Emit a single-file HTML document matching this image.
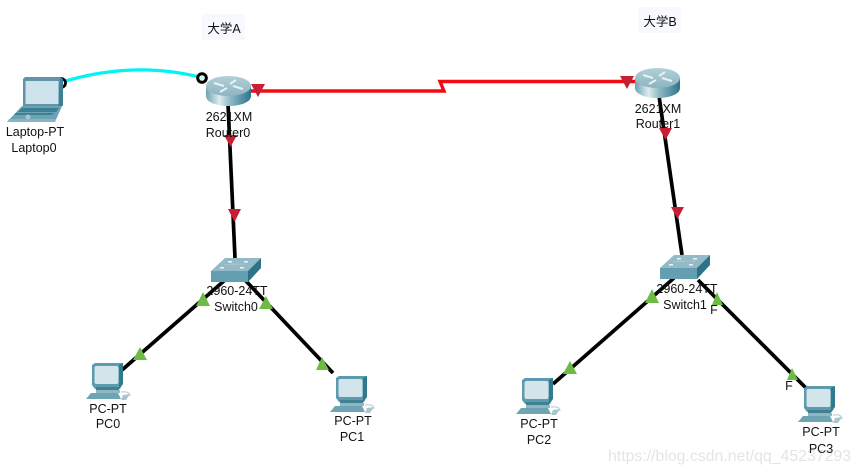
<!DOCTYPE html>
<html>
<head>
<meta charset="utf-8">
<style>
html,body{margin:0;padding:0;background:#fff;width:861px;height:473px;overflow:hidden}
svg{display:block}
text{font-family:"Liberation Sans","Noto Sans CJK SC",sans-serif;font-size:12.5px;fill:#111;text-anchor:middle}
</style>
</head>
<body>
<svg width="861" height="473" viewBox="0 0 861 473" xmlns="http://www.w3.org/2000/svg">
<defs>
<linearGradient id="rb" x1="0" x2="1" y1="0" y2="0">
<stop offset="0" stop-color="#6fa3b2"/><stop offset=".3" stop-color="#dcebee"/><stop offset=".55" stop-color="#8ab8c4"/><stop offset="1" stop-color="#2f7488"/>
</linearGradient>
<linearGradient id="rt" x1="0" x2="0" y1="0" y2="1">
<stop offset="0" stop-color="#b2d0d8"/><stop offset="1" stop-color="#8cb4c0"/>
</linearGradient>
<g id="router">
<path d="M0 10V20C0 26 10 30 22.500 30S45 26 45 20V10Z" fill="url(#rb)"/>
<ellipse cx="22.500" cy="10" rx="22.500" ry="10" fill="url(#rt)"/>
<g stroke="#e8f2f4" stroke-width="2" fill="none">
<path d="M8 7L18 10M30 4L24 8M37 13L27 10M14 16L21 12"/>
</g>
</g>
<g id="switch">
<path d="M0 13L14 0H50L37 13Z" fill="#93bac6"/>
<path d="M0 13H37V24H0Z" fill="#639fb1"/>
<path d="M37 13L50 0V10L37 24Z" fill="#2d7287"/>
<g fill="#eef5f6"><rect x="17" y="3" width="4" height="1.500"/><rect x="33" y="3" width="4" height="1.500"/><rect x="9" y="9" width="4" height="1.500"/><rect x="29" y="9" width="4" height="1.500"/></g>
<path d="M20 6H36M13 6.500L26 6.500" stroke="#a5c5cf" stroke-width="1"/>
</g>
<g id="pc">
<path d="M0 2L3 0H31V20L28 26H3L0 22Z" fill="#5c9bae"/>
<path d="M27 2L31 0V21L27 26Z" fill="#2f7a8f"/>
<rect x="2.500" y="3" width="24" height="18" rx="2" fill="#d4e4eb"/>
<rect x="4" y="24" width="23" height="3" fill="#3f8093"/>
<path d="M4 27H28V30H4Z" fill="#8fb6c2"/>
<path d="M-1 30H26L29 36H-6Z" fill="#6fa4b3"/>
<path d="M29 29Q38 28 38 33" fill="none" stroke="#b8cfd6" stroke-width="1.200"/>
<path d="M31 32L38 31L34 37H29Z" fill="#a9c6cf"/>
</g>
</defs>

<rect width="861" height="473" fill="#fff"/>

<rect x="202" y="14" width="43" height="26" fill="#f8f9ff"/>
<text x="224" y="33">大学A</text>
<rect x="638" y="7" width="43" height="26" fill="#f8f9ff"/>
<text x="660" y="26">大学B</text>

<!-- cables -->
<path d="M62 82Q135 60 203 78" fill="none" stroke="#00f3f5" stroke-width="3.200"/>
<circle cx="61" cy="83" r="4.500" fill="#fff" stroke="#000" stroke-width="2.800"/>
<path d="M245 91H444L440 81.500H636" fill="none" stroke="#f30a14" stroke-width="3.400"/>
<g stroke="#000" stroke-width="3.700" fill="none">
<path d="M228 104L235 258"/>
<path d="M659 96L682 255"/>
<path d="M225 280L122 370"/>
<path d="M245 280L333 373"/>
<path d="M674 278L553 384"/>
<path d="M698 280L806 388"/>
</g>

<!-- laptop -->
<path d="M23 79L25 77H60L63 79V106H23Z" fill="#5e95a8"/>
<path d="M60 77L63 79V105L58 108Z" fill="#3f8094"/>
<rect x="25.500" y="81" width="33" height="23" fill="#cfe3ec"/>
<path d="M22 106H62L55 122H7Z" fill="#6ca2b3"/>
<path d="M22 108H59L56 112H18ZM16 113H54L52 115H14Z" fill="#3d7f93"/>
<path d="M7 122H55L56 119H9Z" fill="#8ab4c0"/>
<circle cx="28" cy="117" r="2.500" fill="#a6c6d0"/>

<!-- devices -->
<use href="#router" x="206" y="76"/>
<use href="#router" x="635" y="68"/>
<use href="#switch" x="211" y="258"/>
<use href="#switch" x="660" y="255"/>
<use href="#pc" x="92" y="363"/>
<use href="#pc" x="336" y="376"/>
<use href="#pc" x="522" y="378"/>
<use href="#pc" x="804" y="386"/>

<circle cx="202" cy="78" r="4.300" fill="#fff" stroke="#000" stroke-width="3"/>
<circle cx="202" cy="78" r="2" fill="#bff"/>

<!-- red triangles -->
<g fill="#c81f35">
<path d="M251 84H265L258 97Z"/>
<path d="M620 76H634L627 89Z"/>
<path d="M224 135H237L230.500 147Z"/>
<path d="M228 209H241L234.500 222Z"/>
<path d="M659 128H672L665.500 140Z"/>
<path d="M671 207H684L677.500 219Z"/>
</g>
<!-- green triangles -->
<g fill="#6dbb45">
<path d="M203 292L210 306H196Z"/>
<path d="M140 347L147 360H133Z"/>
<path d="M266 296L273 309H259Z"/>
<path d="M322 357L329 370H316Z"/>
<path d="M652 289L659 303H645Z"/>
<path d="M570 361L577 374H563Z"/>
<path d="M717 292L723 305H712Z"/>
<path d="M792 368L798 380H787Z"/>
</g>

<!-- labels -->
<text x="35" y="136">Laptop-PT</text>
<text x="34" y="152">Laptop0</text>
<text x="229" y="121">2621XM</text>
<text x="228" y="137">Router0</text>
<text x="658" y="113">2621XM</text>
<text x="658" y="128">Router1</text>
<text x="237" y="295">2960-24TT</text>
<text x="236" y="311">Switch0</text>
<text x="687" y="293">2960-24TT</text>
<text x="685" y="309">Switch1</text>
<text x="108" y="413">PC-PT</text>
<text x="108" y="428">PC0</text>
<text x="353" y="425">PC-PT</text>
<text x="352" y="441">PC1</text>
<text x="539" y="428">PC-PT</text>
<text x="539" y="444">PC2</text>
<text x="821" y="436">PC-PT</text>
<text x="821" y="453">PC3</text>
<text x="714" y="314">F</text>
<text x="789" y="390">F</text>

<text x="608" y="461" textLength="243" lengthAdjust="spacingAndGlyphs" style="font-size:16px;text-anchor:start;fill:#9a9a9a;fill-opacity:.27">https://blog.csdn.net/qq_45237293</text>
</svg>
</body>
</html>
